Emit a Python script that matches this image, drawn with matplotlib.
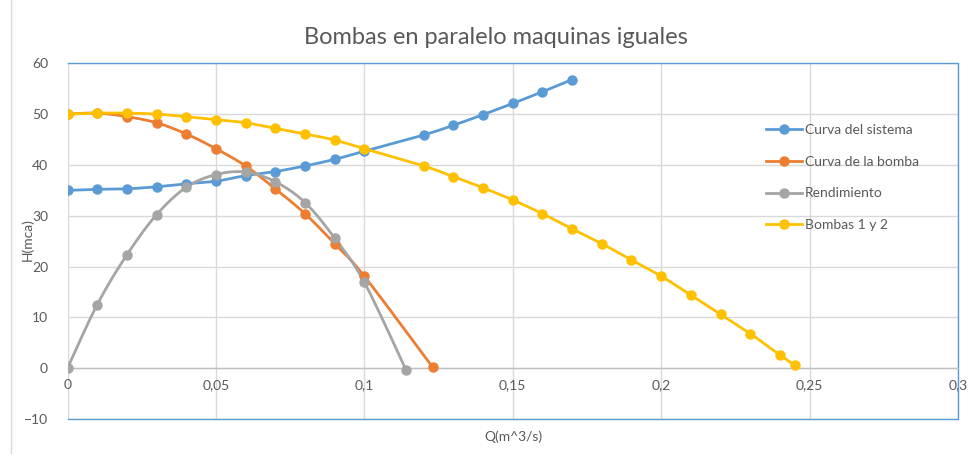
import numpy as np
import matplotlib
matplotlib.use("Agg")
import matplotlib.pyplot as plt
from matplotlib.lines import Line2D

plt.rcParams['font.family'] = ['Lato', 'DejaVu Sans']

# ---- data ----
q_sys = [0, 0.01, 0.02, 0.03, 0.04, 0.05, 0.06, 0.07, 0.08, 0.09, 0.10,
         0.12, 0.13, 0.14, 0.15, 0.16, 0.17]
h_sys = [35.0, 35.2, 35.3, 35.7, 36.3, 36.8, 37.9, 38.7, 39.8, 41.1, 42.7,
         45.9, 47.8, 49.9, 52.1, 54.4, 56.8]

q_pump = [0, 0.01, 0.02, 0.03, 0.04, 0.05, 0.06, 0.07, 0.08, 0.09, 0.10, 0.123]
h_pump = [50.0, 50.2, 49.5, 48.3, 46.1, 43.2, 39.8, 35.3, 30.4, 24.5, 18.1, 0.2]

q_eff = [0, 0.01, 0.02, 0.03, 0.04, 0.05, 0.06, 0.07, 0.08, 0.09, 0.10, 0.114]
h_eff = [0.0, 12.5, 22.3, 30.2, 35.6, 38.1, 38.6, 36.7, 32.6, 25.6, 16.9, -0.3]

q_par = [0, 0.01, 0.02, 0.03, 0.04, 0.05, 0.06, 0.07, 0.08, 0.09, 0.10,
         0.12, 0.13, 0.14, 0.15, 0.16, 0.17, 0.18, 0.19, 0.20, 0.21, 0.22,
         0.23, 0.24, 0.245]
h_par = [50.0, 50.2, 50.2, 50.0, 49.5, 48.9, 48.3, 47.2, 46.1, 44.9, 43.2,
         39.8, 37.7, 35.5, 33.1, 30.4, 27.4, 24.5, 21.3, 18.1, 14.4, 10.6,
         6.8, 2.6, 0.6]

series_names = ["Curva del sistema", "Curva de la bomba", "Rendimiento", "Bombas 1 y 2"]
colors = ["#5B9BD5", "#ED7D31", "#A5A5A5", "#FFC000"]

x_ticks = [0, 0.05, 0.1, 0.15, 0.2, 0.25, 0.3]
x_tick_labels = ["0", "0,05", "0,1", "0,15", "0,2", "0,25", "0,3"]
y_ticks = [-10, 0, 10, 20, 30, 40, 50, 60]

XMIN, XMAX, YMIN, YMAX = 0, 0.3, -10, 60


def smooth(x, y, n=20):
    # Excel-like smoothed line (Catmull-Rom Bezier) in normalized coords
    x = np.asarray(x, float); y = np.asarray(y, float)
    sx = 890.0 / (XMAX - XMIN); sy = 356.0 / (YMAX - YMIN)
    P = np.column_stack([x * sx, y * sy])
    pts = [P[0]]
    m = len(P)
    for i in range(m - 1):
        p0 = P[i - 1] if i > 0 else P[i]
        p1 = P[i]; p2 = P[i + 1]
        p3 = P[i + 2] if i + 2 < m else P[i + 1]
        c1 = p1 + (p2 - p0) / 6.0
        c2 = p2 - (p3 - p1) / 6.0
        t = np.linspace(0, 1, n)[1:, None]
        seg = ((1 - t) ** 3) * p1 + 3 * ((1 - t) ** 2) * t * c1 + 3 * (1 - t) * t ** 2 * c2 + t ** 3 * p2
        pts.extend(seg)
    pts = np.array(pts)
    return pts[:, 0] / sx, pts[:, 1] / sy


W, H = 971, 457
fig = plt.figure(figsize=(W / 100, H / 100), dpi=100)
ax = fig.add_axes([67.5 / W, 1 - 419 / H, (958 - 67.5) / W, (419 - 63.3) / H])

text_c = "#595959"
grid_c = "#D9D9D9"

ax.set_xlim(XMIN, XMAX)
ax.set_ylim(YMIN, YMAX)
ax.set_xticks(x_ticks)
ax.set_yticks(y_ticks)
ax.grid(True, color=grid_c, linewidth=1.0)
ax.set_axisbelow(True)

for s in ["top", "right", "left"]:
    ax.spines[s].set_visible(False)
ax.spines["bottom"].set_position(("data", 0))
ax.spines["bottom"].set_color("#BFBFBF")
ax.spines["bottom"].set_linewidth(1.0)
ax.tick_params(axis="both", length=0, colors=text_c, labelsize=10)
ax.tick_params(axis="x", pad=8)
ax.tick_params(axis="y", pad=14)
ax.set_xticklabels(x_tick_labels)

# plot-area border (blue on top/right/bottom)
ax.plot([0, 1, 1, 0], [1, 1, 0, 0], transform=ax.transAxes, color="#5B9BD5",
        linewidth=1.0, clip_on=False, zorder=1)

data = [(q_sys, h_sys), (q_pump, h_pump), (q_eff, h_eff), (q_par, h_par)]
handles = []
for (qx, hy), c, name in zip(data, colors, series_names):
    sx, sy = smooth(qx, hy)
    ax.plot(sx, sy, color=c, linewidth=2.0, solid_capstyle="round", zorder=3)
    ax.plot(qx, hy, linestyle="none", marker="o", markersize=6.5, color=c, zorder=4)
    handles.append(Line2D([0], [0], color=c, linewidth=2.0, marker="o", markersize=6.5))

leg = ax.legend(handles, series_names, loc="upper left", bbox_to_anchor=(0.778, 0.845),
                frameon=False, fontsize=10, labelcolor=text_c, handlelength=2.6,
                handletextpad=0.2, labelspacing=1.42, borderaxespad=0)

fig.text(496 / W, 1 - 37 / H, "Bombas en paralelo maquinas iguales", ha="center", va="center",
         fontsize=17, color=text_c)
fig.text(513 / W, 1 - 437 / H, "Q(m^3/s)", ha="center", va="center", fontsize=10, color=text_c)
fig.text(27 / W, 1 - 240 / H, "H(mca)", ha="center", va="center", rotation=90,
         fontsize=10, color=text_c)

# chart-area left border
fig.add_artist(Line2D([11 / W, 11 / W], [1 - 453 / H, 1.0], color="#D9D9D9", linewidth=1.0))

fig.savefig("out.png", dpi=100)
